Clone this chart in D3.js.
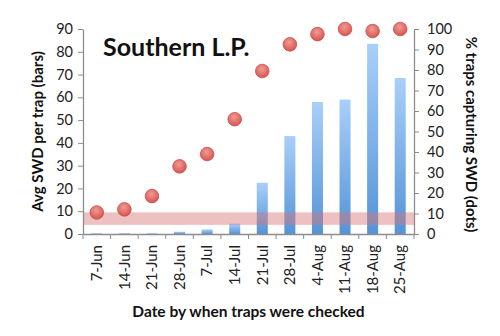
<!DOCTYPE html>
<html><head><meta charset="utf-8">
<script src="https://cdn.jsdelivr.net/npm/d3@7"></script>
<style>body{margin:0;background:#fff}svg{display:block}text{font-family:Lato,"Open Sans",sans-serif}</style>
</head><body><svg id="c" width="500" height="336"></svg>
<script>
const dates = ["7-Jun","14-Jun","21-Jun","28-Jun","7-Jul","14-Jul","21-Jul","28-Jul","4-Aug","11-Aug","18-Aug","25-Aug"];
const avgSWD = [0.3,0.3,0.3,1,2,4.5,22.5,43,58,59,83.5,68.5];
const pctTraps = [10.5,12,18.5,33,39,56,79.5,92.5,97.5,100,99,100];
const leftTicks = [0,10,20,30,40,50,60,70,80,90];
const rightTicks = [0,10,20,30,40,50,60,70,80,90,100];
const threshold = [4,9.5];

const svg = d3.select("#c");
const L = 83, R = 414, T = 29, B = 234;
const x = d3.scaleBand().domain(dates).range([L, R]).padding(0);
const yL = d3.scaleLinear().domain([0, 90]).range([B, T]);
const yR = d3.scaleLinear().domain([0, 100]).range([B, T]);

const defs = svg.append("defs");
const bg = defs.append("linearGradient").attr("id","bg").attr("x1",0).attr("y1",0).attr("x2",0).attr("y2",1);
bg.append("stop").attr("offset","0%").attr("stop-color","#a9cff9");
bg.append("stop").attr("offset","100%").attr("stop-color","#5494d8");
const rg = defs.append("radialGradient").attr("id","dg").attr("cx","45%").attr("cy","35%").attr("r","65%");
rg.append("stop").attr("offset","0%").attr("stop-color","#f19a94");
rg.append("stop").attr("offset","100%").attr("stop-color","#d9534f");

// bars
const bw = x.bandwidth();
svg.append("g").selectAll("rect").data(dates).join("rect")
  .attr("x", d => x(d) + bw*0.3)
  .attr("width", bw*0.4)
  .attr("y", (d,i) => yL(avgSWD[i]))
  .attr("height", (d,i) => B - yL(avgSWD[i]))
  .attr("fill", "url(#bg)");

// threshold band
svg.append("rect").attr("x", L).attr("width", R-L)
  .attr("y", yL(threshold[1])).attr("height", yL(threshold[0]) - yL(threshold[1]))
  .attr("fill", "#d67676").attr("opacity", 0.45);

// axes
const axisColor = "#8c8c8c";
const gl = svg.append("g").attr("transform",`translate(${L},0)`)
  .call(d3.axisLeft(yL).tickValues(leftTicks).tickSize(5).tickPadding(5).tickSizeOuter(0));
const gr = svg.append("g").attr("transform",`translate(${R},0)`)
  .call(d3.axisRight(yR).tickValues(rightTicks).tickSize(5).tickPadding(8).tickSizeOuter(0));
const gx = svg.append("g").attr("transform",`translate(0,${B})`)
  .call(d3.axisBottom(x).tickSize(0).tickPadding(8));
[gl,gr,gx].forEach(g=>{
  g.selectAll("path.domain").attr("stroke",axisColor).attr("stroke-width",1.3);
  g.selectAll("line").attr("stroke",axisColor);
  g.selectAll("text").attr("fill","#222").attr("font-size",14.5).attr("font-family","Lato, 'Open Sans', sans-serif");
});
gx.selectAll(".tick text")
  .attr("font-size",15)
  .attr("transform","rotate(-90)")
  .attr("text-anchor","end")
  .attr("x",-11).attr("y",0).attr("dy","0.35em");
// category boundary ticks
const bounds = dates.map(d => x(d)).concat([R]);
svg.append("g").selectAll("line").data(bounds).join("line")
  .attr("x1", d=>d).attr("x2", d=>d).attr("y1", B).attr("y2", B+5)
  .attr("stroke", axisColor);

// dots
svg.append("g").selectAll("circle").data(dates).join("circle")
  .attr("cx", d => x(d) + bw/2)
  .attr("cy", (d,i) => yR(pctTraps[i]))
  .attr("r", 6.8)
  .attr("fill", "url(#dg)")
  .attr("stroke", "#c0504d").attr("stroke-width", 0.8);

// titles
svg.append("text").attr("x", 103).attr("y", 56).attr("font-size", 25).attr("font-weight", "bold")
  .attr("fill","#111").text("Southern L.P.");
svg.append("text").attr("transform", `translate(43,${(T+B)/2}) rotate(-90)`)
  .attr("text-anchor","middle").attr("font-size",15).attr("font-weight","bold").attr("fill","#111")
  .text("Avg SWD per trap (bars)");
svg.append("text").attr("transform", `translate(466,${(T+B)/2 + 3}) rotate(90)`)
  .attr("text-anchor","middle").attr("font-size",15).attr("font-weight","bold").attr("fill","#111")
  .text("% traps capturing SWD (dots)");
svg.append("text").attr("x", (L+R)/2).attr("y", 317).attr("text-anchor","middle")
  .attr("font-size",15.5).attr("font-weight","bold").attr("fill","#111")
  .text("Date by when traps were checked");
</script></body></html>
